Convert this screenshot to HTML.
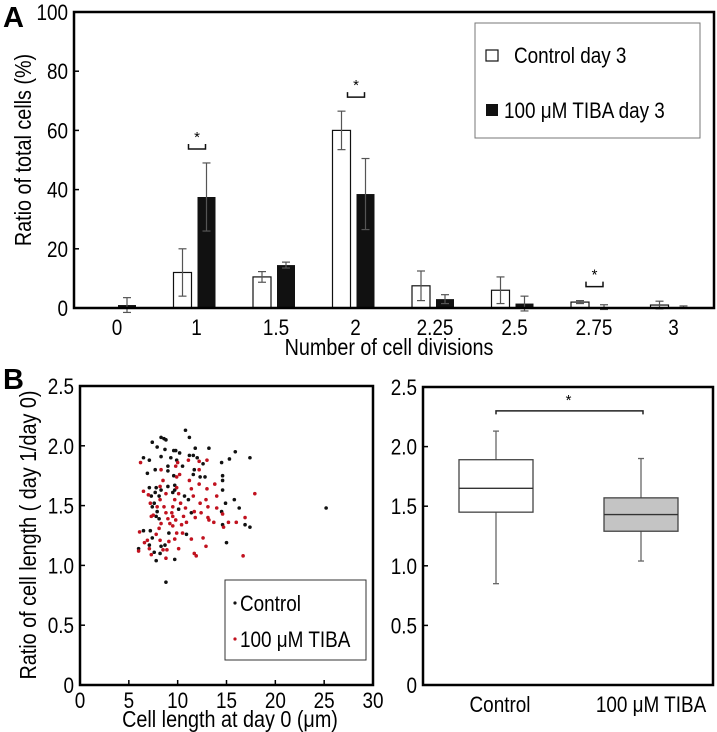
<!DOCTYPE html>
<html><head><meta charset="utf-8"><style>
html,body{margin:0;padding:0;background:#fff;}
svg{display:block;font-family:"Liberation Sans",sans-serif;}
</style></head><body>
<svg id="fig" width="717" height="732" viewBox="0 0 717 732"></svg>
<script>
// Panel A data
const categories=["0","1","1.5","2","2.25","2.5","2.75","3"];
const controlVals=[0,12,10.5,60,7.5,6,2,1];
const controlErr=[0,8,1.8,6.5,5,4.5,0.5,1.3];
const tibaVals=[1,37.5,14.5,38.5,3,1.5,0.3,0.3];
const tibaErr=[2.5,11.5,1,12,1.5,2.5,0.8,0.4];
const yTicksA=[0,20,40,60,80,100];
const sigIdx=[1,3,6];
// Panel B scatter data [x, y]
const controlPts=[[10.8,2.13],[11.2,2.07],[8.3,2.07],[8.6,2.06],[8.8,2.05],[7.4,2.03],[7.9,1.99],[8.7,1.97],[9.6,1.96],[9.8,1.96],[10.2,1.94],[11.8,1.98],[13.2,1.98],[6.5,1.9],[7.1,1.88],[8.3,1.91],[9.3,1.9],[9.9,1.88],[11.2,1.92],[11.6,1.92],[12.0,1.9],[15.9,1.95],[15.3,1.89],[17.4,1.9],[14.5,1.86],[12.6,1.85],[9.0,1.83],[10.5,1.83],[7.7,1.8],[9.0,1.79],[11.7,1.8],[6.9,1.77],[9.6,1.75],[11.6,1.76],[12.3,1.74],[14.6,1.75],[14.6,1.71],[12.8,1.74],[7.1,1.65],[7.8,1.65],[9.7,1.67],[9.7,1.63],[9.0,1.66],[8.3,1.63],[7.7,1.61],[8.1,1.58],[9.5,1.61],[7.3,1.58],[14.6,1.63],[10.7,1.58],[7.6,1.52],[7.4,1.49],[7.9,1.45],[7.8,1.41],[8.1,1.39],[11.1,1.55],[10.1,1.47],[11.4,1.44],[14.9,1.52],[15.8,1.55],[16.3,1.48],[14.5,1.45],[14.6,1.34],[16.9,1.34],[17.4,1.32],[9.1,1.27],[10.9,1.26],[6.5,1.29],[7.2,1.29],[7.4,1.23],[7.1,1.17],[8.3,1.16],[8.7,1.17],[15.0,1.19],[6.0,1.14],[7.6,1.11],[8.2,1.1],[7.8,1.04],[9.7,1.05],[8.8,0.86],[25.2,1.48]];
const tibaPts=[[6.2,1.86],[6.5,1.62],[7.0,1.59],[7.2,1.52],[6.1,1.28],[6.0,1.12],[6.6,1.19],[6.9,1.21],[7.1,1.14],[7.3,1.09],[7.8,1.26],[7.3,1.41],[7.5,1.42],[7.9,1.49],[8.2,1.55],[8.2,1.66],[8.3,1.8],[8.5,1.71],[8.8,1.6],[8.6,1.49],[8.8,1.44],[8.3,1.35],[8.1,1.31],[8.2,1.21],[8.5,1.13],[8.8,1.06],[8.9,1.13],[9.1,1.2],[9.2,1.35],[9.0,1.39],[9.4,1.44],[9.5,1.49],[9.7,1.55],[9.9,1.74],[9.8,1.83],[10.0,1.86],[10.2,1.76],[9.9,1.65],[10.1,1.6],[10.3,1.52],[9.5,1.41],[9.8,1.38],[9.5,1.33],[9.9,1.27],[9.7,1.22],[10.1,1.14],[10.5,1.27],[10.4,1.34],[10.6,1.41],[10.8,1.48],[11.1,1.88],[11.2,1.71],[11.4,1.64],[11.6,1.58],[11.4,1.22],[10.9,1.36],[11.7,1.45],[11.8,1.4],[11.7,1.1],[11.9,1.08],[12.2,1.8],[12.2,1.87],[12.2,1.68],[12.3,1.52],[12.4,1.44],[12.6,1.23],[12.9,1.16],[13.0,1.88],[13.0,1.64],[12.9,1.55],[13.1,1.49],[13.1,1.4],[13.2,1.38],[13.7,1.36],[13.8,1.68],[14.0,1.58],[14.0,1.48],[14.6,1.43],[14.7,1.32],[15.2,1.36],[16.0,1.36],[16.9,1.4],[16.7,1.08],[17.9,1.6]];
const xTicksB=[0,5,10,15,20,25,30];
const yTicksB=[0,0.5,1.0,1.5,2.0,2.5];
// Box plot data: [min, q1, median, q3, max]
const boxGroups=["Control","100 μM TIBA"];
const boxStats=[[0.85,1.45,1.65,1.89,2.13],[1.04,1.29,1.43,1.57,1.90]];

const svg=document.getElementById('fig');
const NS="http://www.w3.org/2000/svg";
function mk(tag,attrs,parent){const e=document.createElementNS(NS,tag);for(const k in attrs)e.setAttribute(k,attrs[k]);(parent||svg).appendChild(e);return e;}
function txt(s,attrs,parent){const e=mk('text',attrs,parent);e.textContent=s;return e;}
// narrow text (condensed look)
function ntxt(s,x,y,size,anchor,parent,rot){
  const tr=`translate(${x},${y})`+(rot?` rotate(${rot})`:'')+' scale(0.86,1)';
  return txt(s,{transform:tr,'font-size':size,'text-anchor':anchor||'start'},parent);
}

// ===== Panel A =====
const A={l:74,r:714,t:12,b:308};
const yA=v=>A.b-v*(A.b-A.t)/100;
const xA=i=>117+i*79.5;
const gA=mk('g',{});


let lab=txt('A',{x:3,y:27,'font-size':29,'font-weight':'bold'},gA);

yTicksA.forEach(v=>{
  const t=ntxt(String(v),68,yA(v)+8,22,'end',gA);
  
  mk('line',{x1:A.l,x2:A.l+5,y1:yA(v),y2:yA(v),stroke:'#000','stroke-width':1.5},gA);
});
categories.forEach((c,i)=>{
  const t=ntxt(c,xA(i),335,22,'middle',gA);
  
  const bw=18;
  const cx=xA(i)-23, tx=xA(i)+1;
  if(controlVals[i]>0){
    const b=mk('rect',{x:cx,y:yA(controlVals[i]),width:bw,height:A.b-yA(controlVals[i]),fill:'#fff',stroke:'#111','stroke-width':1.2},gA);
    
    const ex=cx+bw/2,y1=yA(controlVals[i]+controlErr[i]),y2=yA(Math.max(controlVals[i]-controlErr[i],-2));
    mk('line',{x1:ex,x2:ex,y1:y1,y2:y2,stroke:'#555','stroke-width':1.2},gA);
    mk('line',{x1:ex-4,x2:ex+4,y1:y1,y2:y1,stroke:'#555','stroke-width':1.2},gA);
    mk('line',{x1:ex-4,x2:ex+4,y1:y2,y2:y2,stroke:'#555','stroke-width':1.2},gA);
  }
  const b2=mk('rect',{x:tx,y:yA(tibaVals[i]),width:bw,height:A.b-yA(tibaVals[i]),fill:'#111'},gA);
  
  const ex=tx+bw/2,y1=yA(tibaVals[i]+tibaErr[i]),y2=yA(Math.max(tibaVals[i]-tibaErr[i],-2));
  mk('line',{x1:ex,x2:ex,y1:y1,y2:y2,stroke:'#555','stroke-width':1.2},gA);
  mk('line',{x1:ex-4,x2:ex+4,y1:y1,y2:y1,stroke:'#555','stroke-width':1.2},gA);
  mk('line',{x1:ex-4,x2:ex+4,y1:y2,y2:y2,stroke:'#555','stroke-width':1.2},gA);
});
sigIdx.forEach(i=>{
  const top=Math.max(controlVals[i]+controlErr[i],tibaVals[i]+tibaErr[i]);
  const yb=yA(top)-14>yA(top+5)?yA(top)-14:yA(top+5);
  const x1=xA(i)-8,x2=xA(i)+9;
  mk('path',{d:`M${x1} ${yb-5}V${yb}H${x2}V${yb-5}`,fill:'none',stroke:'#111','stroke-width':1.5},gA);
  const s=txt('*',{x:(x1+x2)/2,y:yb-7,'font-size':15,'text-anchor':'middle'},gA);
  
});
mk('path',{d:`M${A.l} ${A.t}H${A.r}V${A.b}H${A.l}Z`,fill:'none',stroke:'#000','stroke-width':2.5},gA);
const ytA=ntxt('Ratio of total cells (%)',31,150,23,'middle',gA,-90);

const xtA=ntxt('Number of cell divisions',389,355,23,'middle',gA);

const legA=mk('g',{},gA);

mk('rect',{x:475,y:23,width:225,height:115,fill:'#fff',stroke:'#777','stroke-width':1},legA);
mk('rect',{x:486,y:50,width:12,height:11,fill:'#fff',stroke:'#111','stroke-width':1.2},legA);
ntxt('Control day 3',514,63,22,'start',legA);
mk('rect',{x:486,y:104,width:12,height:12,fill:'#111'},legA);
ntxt('100 μM TIBA day 3',504,118,22,'start',legA);

// ===== Panel B scatter =====
const S={l:80,r:373,t:386,b:685};
const xS=v=>S.l+v*(S.r-S.l)/30;
const yS=v=>S.b-v*(S.b-S.t)/2.5;
const gS=mk('g',{});

lab=txt('B',{x:3,y:389,'font-size':29,'font-weight':'bold'},gS);

yTicksB.forEach(v=>{
  const t=ntxt(v===0?'0':v.toFixed(1),74,yS(v)+8,22,'end',gS);
  
  mk('line',{x1:S.l,x2:S.l+5,y1:yS(v),y2:yS(v),stroke:'#000','stroke-width':1.5},gS);
});
xTicksB.forEach(v=>{
  const t=ntxt(String(v),xS(v),708,22,'middle',gS);
  
  mk('line',{x1:xS(v),x2:xS(v),y1:S.b,y2:S.b-5,stroke:'#000','stroke-width':1.5},gS);
});
controlPts.forEach(p=>{
  const c=mk('circle',{cx:xS(p[0]),cy:yS(p[1]),r:1.8,fill:'#111'},gS);
  
});
tibaPts.forEach(p=>{
  const c=mk('circle',{cx:xS(p[0]),cy:yS(p[1]),r:1.8,fill:'#c1121f'},gS);
  
});
mk('path',{d:`M${S.l} ${S.t}H${S.r}V${S.b}H${S.l}Z`,fill:'none',stroke:'#000','stroke-width':2.5},gS);
const legB=mk('g',{},gS);

mk('rect',{x:225,y:580,width:141,height:80,fill:'#fff',stroke:'#333','stroke-width':1},legB);
mk('circle',{cx:235,cy:603,r:1.6,fill:'#111'},legB);
ntxt('Control',240,611,22,'start',legB);
mk('circle',{cx:235,cy:639,r:1.6,fill:'#c1121f'},legB);
ntxt('100 μM TIBA',240,647,22,'start',legB);
const ytB=ntxt('Ratio of cell length ( day 1/day 0)',36,535,23,'middle',gS,-90);

const xtB=ntxt('Cell length at day 0 (μm)',230,727,23,'middle',gS);


// ===== Panel B box plot =====
const Bx={l:423,r:713,t:387,b:685};
const yB=v=>Bx.b-v*(Bx.b-Bx.t)/2.5;
const xB=i=>496+i*145;
const gB=mk('g',{});

yTicksB.forEach(v=>{
  const t=ntxt(v===0?'0':v.toFixed(1),417,yB(v)+8,22,'end',gB);
  
  mk('line',{x1:Bx.l,x2:Bx.l+5,y1:yB(v),y2:yB(v),stroke:'#000','stroke-width':1.5},gB);
});
boxStats.forEach((s,i)=>{
  const cx=xB(i),w=74;
  const g=mk('g',{},gB);
  
  mk('line',{x1:cx,x2:cx,y1:yB(s[0]),y2:yB(s[4]),stroke:'#666','stroke-width':1.3},g);
  mk('line',{x1:cx-3,x2:cx+3,y1:yB(s[0]),y2:yB(s[0]),stroke:'#666','stroke-width':1.3},g);
  mk('line',{x1:cx-3,x2:cx+3,y1:yB(s[4]),y2:yB(s[4]),stroke:'#666','stroke-width':1.3},g);
  mk('rect',{x:cx-w/2,y:yB(s[3]),width:w,height:yB(s[1])-yB(s[3]),fill:i===0?'#fff':'#c4c4c4',stroke:'#444','stroke-width':1.3},g);
  mk('line',{x1:cx-w/2,x2:cx+w/2,y1:yB(s[2]),y2:yB(s[2]),stroke:'#333','stroke-width':1.4},g);
  const t=ntxt(boxGroups[i],cx+(i===1?10:4),712,22,'middle',gB);
  
});
const brk=mk('path',{d:`M${xB(0)} ${yB(2.27)}V${yB(2.3)}H${xB(1)+2}V${yB(2.27)}`,fill:'none',stroke:'#222','stroke-width':1.5},gB);

const st=txt('*',{x:(xB(0)+xB(1))/2,y:yB(2.3)-6,'font-size':15,'text-anchor':'middle'},gB);

mk('path',{d:`M${Bx.l} ${Bx.t}H${Bx.r}V${Bx.b}H${Bx.l}Z`,fill:'none',stroke:'#000','stroke-width':2.5},gB);
</script>
</body></html>
